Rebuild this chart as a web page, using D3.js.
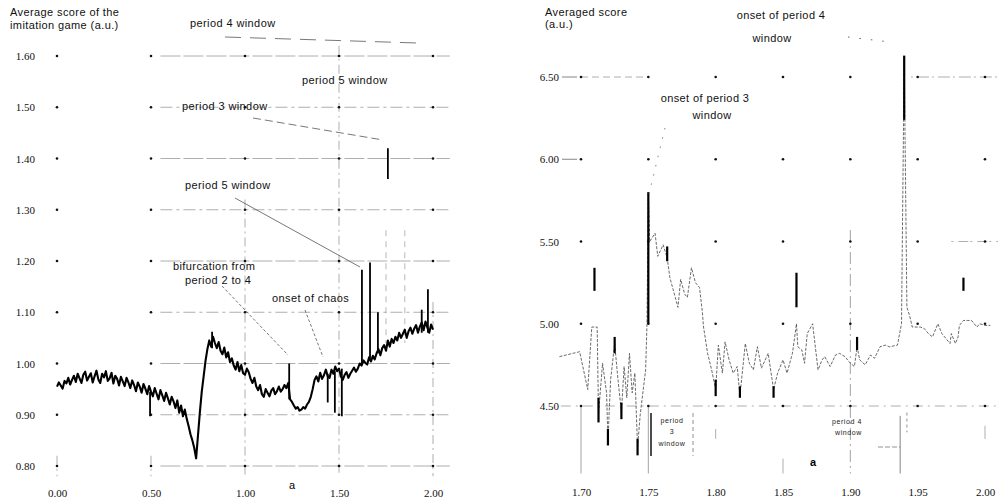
<!DOCTYPE html>
<html>
<head>
<meta charset="utf-8">
<script src="https://cdn.jsdelivr.net/npm/d3@7"></script>
<style>
  body { margin: 0; background: #fff; }
  svg { display: block; }
  .note { font-family: "Liberation Sans", Arial, sans-serif; font-size: 11px; letter-spacing: 0.4px; fill: #111; }
  .small { font-family: "Liberation Sans", Arial, sans-serif; font-size: 7px; letter-spacing: 0.6px; fill: #222; }
</style>
</head>
<body>
<div id="chart"></div>
<script>
// ---- left panel: average score vs a (sampled every 0.01 from 0 to 2) ----
const leftStart = 0, leftStep = 0.01;
const leftScore = [
  0.955, 0.963, 0.957, 0.951, 0.966, 0.961, 0.972, 0.959, 0.968, 0.976,
  0.964, 0.980, 0.971, 0.962, 0.978, 0.984, 0.967, 0.974, 0.981, 0.963,
  0.975, 0.986, 0.969, 0.962, 0.980, 0.973, 0.985, 0.966, 0.971, 0.982,
  0.961, 0.976, 0.970, 0.957, 0.974, 0.965, 0.956, 0.972, 0.963, 0.952,
  0.967, 0.958, 0.946, 0.963, 0.955, 0.943, 0.960, 0.951, 0.940, 0.956,
  0.945, 0.936, 0.952, 0.941, 0.930, 0.948, 0.938, 0.927, 0.943, 0.932,
  0.920, 0.935, 0.926, 0.913, 0.928, 0.904, 0.918, 0.897, 0.910, 0.892,
  0.878, 0.862, 0.850, 0.835, 0.815, 0.860, 0.905, 0.945, 0.975, 1.005,
  1.028, 1.045, 1.033, 1.052, 1.040, 1.030, 1.042, 1.025, 1.018, 1.031,
  1.012, 1.022, 1.003, 1.010, 0.996, 0.988, 1.003, 0.985, 0.997, 0.981,
  0.978, 0.990, 0.983, 0.970, 0.962, 0.972, 0.955, 0.948, 0.958, 0.940,
  0.935, 0.950, 0.943, 0.936, 0.947, 0.952, 0.940, 0.946, 0.955, 0.945,
  0.950, 0.958, 0.952, 0.962, 0.930, 0.925, 0.918, 0.912, 0.915, 0.908,
  0.910, 0.915, 0.912, 0.920, 0.925, 0.935, 0.950, 0.968, 0.975, 0.965,
  0.982, 0.970, 0.977, 0.988, 0.975, 0.972, 0.988, 0.980, 0.994, 0.985,
  0.990, 0.975, 0.968, 0.978, 0.983, 0.972, 0.980, 0.986, 0.992, 0.984,
  0.990, 1.000, 0.996, 1.006, 1.001, 0.998, 1.012, 1.004, 1.015, 1.008,
  1.020, 1.028, 1.016, 1.030, 1.036, 1.025, 1.045, 1.033, 1.048, 1.040,
  1.052, 1.045, 1.060, 1.050, 1.058, 1.066, 1.050, 1.063, 1.070, 1.058,
  1.068, 1.075, 1.060, 1.072, 1.080, 1.065, 1.082, 1.070, 1.060, 1.076, 1.066
];
// isolated spikes: [a, low, high]
const leftSpikes = [
  [0.495, 0.897, 0.945], [0.825, 1.030, 1.062], [1.235, 0.930, 1.000],
  [1.440, 0.924, 0.980], [1.478, 0.904, 0.985], [1.515, 0.897, 0.990],
  [1.622, 1.000, 1.183], [1.665, 1.010, 1.197], [1.707, 1.020, 1.100],
  [1.760, 1.360, 1.420], [1.940, 1.060, 1.105], [1.973, 1.060, 1.145]
];
const leftTicksX = [0, 0.5, 1.0, 1.5, 2.0];
const leftTicksY = [0.8, 0.9, 1.0, 1.1, 1.2, 1.3, 1.4, 1.5, 1.6];
const leftGridTop = [0.82, 0.82, 1.32, 1.62, 1.12];

// ---- right panel: averaged score vs a (1.70 .. 2.00) ----
const rightA = [
  1.684, 1.699, 1.705, 1.708, 1.712, 1.713, 1.716, 1.719, 1.720, 1.722,
  1.725, 1.727, 1.730, 1.732, 1.734, 1.736, 1.738, 1.740, 1.742, 1.744,
  1.748, 1.749, 1.750, 1.751, 1.755, 1.757, 1.761, 1.764, 1.766, 1.770,
  1.772, 1.774, 1.777, 1.779, 1.782, 1.785, 1.788, 1.790, 1.791, 1.794,
  1.797, 1.800, 1.802, 1.805, 1.807, 1.810, 1.813, 1.816, 1.818, 1.822,
  1.825, 1.828, 1.831, 1.834, 1.839, 1.843, 1.846, 1.850, 1.853, 1.857,
  1.860, 1.861, 1.864, 1.866, 1.868, 1.872, 1.876, 1.879, 1.881, 1.885,
  1.889, 1.892, 1.896, 1.900, 1.903, 1.905, 1.907, 1.911, 1.915, 1.918,
  1.922, 1.926, 1.929, 1.935, 1.938, 1.940, 1.942, 1.944, 1.946, 1.952,
  1.955, 1.958, 1.961, 1.965, 1.968, 1.970, 1.974, 1.975, 1.978, 1.980,
  1.981, 1.984, 1.987, 1.990, 1.994, 1.996, 2.000, 2.004
];
const rightScore = [
  4.80, 4.83, 4.60, 4.98, 4.98, 4.45, 4.76, 4.58, 4.29, 4.66,
  4.88, 4.70, 4.46, 4.74, 4.55, 4.82, 4.58, 4.70, 4.25, 4.45,
  4.72, 5.00, 5.80, 5.50, 5.55, 5.41, 5.48, 5.40, 5.28, 5.16,
  5.10, 5.27, 5.18, 5.16, 5.34, 5.25, 5.22, 5.08, 4.98, 4.82,
  4.72, 4.60, 4.87, 4.70, 4.89, 4.78, 4.70, 4.74, 4.56, 4.88,
  4.76, 4.72, 4.86, 4.73, 4.82, 4.60, 4.70, 4.78, 4.70, 4.82,
  5.00, 4.86, 4.84, 4.76, 4.94, 5.00, 4.72, 4.78, 4.80, 4.74,
  4.81, 4.82, 4.80, 4.76, 4.74, 4.86, 4.78, 4.75, 4.81, 4.79,
  4.86, 4.87, 4.86, 4.87, 5.00, 6.62, 5.10, 5.05, 4.98, 4.98,
  4.97, 4.94, 4.92, 5.00, 4.94, 4.92, 4.88, 4.94, 4.88, 4.92,
  4.99, 5.02, 5.02, 5.02, 4.98, 5.00, 4.99, 4.99
];
const rightSpikes = [
  [1.710, 5.20, 5.34], [1.713, 4.40, 4.55], [1.720, 4.26, 4.36],
  [1.725, 4.82, 4.92], [1.730, 4.42, 4.52], [1.742, 4.20, 4.30],
  [1.750, 5.00, 5.80], [1.764, 5.38, 5.47], [1.800, 4.56, 4.66],
  [1.818, 4.55, 4.62], [1.843, 4.55, 4.62], [1.860, 5.10, 5.31],
  [1.905, 4.84, 4.92], [1.940, 6.24, 6.63], [1.984, 5.20, 5.28]
];
const rightTicksX = [1.70, 1.75, 1.80, 1.85, 1.90, 1.95, 2.00];
const rightTicksY = [4.5, 5.0, 5.5, 6.0, 6.5];

const W = 998, H = 498;
const svg = d3.select("#chart").append("svg").attr("width", W).attr("height", H);

const gridColor = "#9a9a9a";

// ================= LEFT PANEL =================
const xL = d3.scaleLinear().domain([0, 2]).range([57, 433]);
const yL = d3.scaleLinear().domain([0.8, 1.6]).range([466, 56]);
const left = svg.append("g");

// horizontal grid
left.selectAll(".hgrid").data(leftTicksY).enter().append("line")
  .attr("x1", xL(0.55)).attr("x2", xL(2.09))
  .attr("y1", (d) => yL(d)).attr("y2", (d) => yL(d))
  .attr("stroke", gridColor).attr("stroke-width", 0.8)
  .attr("stroke-dasharray", (d, i) => (i % 2 ? "12,4,3,4" : "20,3"));

// vertical grid
left.selectAll(".vgrid").data(leftTicksX).enter().append("line")
  .attr("x1", (d) => xL(d)).attr("x2", (d) => xL(d))
  .attr("y1", (d, i) => yL(leftGridTop[i])).attr("y2", yL(0.78))
  .attr("stroke", gridColor).attr("stroke-width", 0.8)
  .attr("stroke-dasharray", "9,4,2,4");
left.selectAll(".vgrid2").data([1.75, 1.85]).enter().append("line")
  .attr("x1", (d) => xL(d)).attr("x2", (d) => xL(d))
  .attr("y1", yL(1.26)).attr("y2", yL(1.04))
  .attr("stroke", gridColor).attr("stroke-width", 0.7)
  .attr("stroke-dasharray", "6,5");

// grid dots
left.selectAll(".dot").data(d3.cross(leftTicksX, leftTicksY)).enter().append("circle")
  .attr("cx", (d) => xL(d[0])).attr("cy", (d) => yL(d[1])).attr("r", 1.3).attr("fill", "#111");

// series
const leftLine = d3.line()
  .x((d, i) => xL(leftStart + i * leftStep))
  .y((d) => yL(d));
left.append("path").datum(leftScore)
  .attr("d", leftLine).attr("fill", "none")
  .attr("stroke", "#000").attr("stroke-width", 2.1).attr("stroke-linejoin", "round");
left.selectAll(".spike").data(leftSpikes).enter().append("line")
  .attr("x1", (d) => xL(d[0])).attr("x2", (d) => xL(d[0]))
  .attr("y1", (d) => yL(d[1])).attr("y2", (d) => yL(d[2]))
  .attr("stroke", "#000").attr("stroke-width", 1.8);

// axes
const axL = left.append("g").attr("transform", "translate(0,489)")
  .call(d3.axisBottom(xL).tickValues(leftTicksX).tickFormat(d3.format(".2f")).tickSize(0).tickPadding(0));
const ayL = left.append("g").attr("transform", "translate(35,0)")
  .call(d3.axisLeft(yL).tickValues(leftTicksY).tickFormat(d3.format(".2f")).tickSize(0).tickPadding(0));
[axL, ayL].forEach((g) => {
  g.select(".domain").remove();
  g.selectAll("text").attr("font-family", "Liberation Serif, serif").attr("font-size", 11).attr("fill", "#111");
});

left.append("text").attr("class", "note").attr("x", 10).attr("y", 16).text("Average score of the");
left.append("text").attr("class", "note").attr("x", 10).attr("y", 29).text("imitation game (a.u.)");
left.append("text").attr("x", xL(1.25)).attr("y", 489).attr("text-anchor", "middle")
  .attr("font-family", "Liberation Sans, sans-serif").attr("font-size", 11).text("a");

const leftNotes = [
  ["period 4 window", 190, 27], ["period 5 window", 302, 84], ["period 3 window", 182, 110],
  ["period 5 window", 185, 189], ["bifurcation from", 173, 270], ["period 2 to 4", 185, 284],
  ["onset of chaos", 272, 302]
];
left.selectAll(".lnote").data(leftNotes).enter().append("text").attr("class", "note")
  .attr("x", (d) => d[1]).attr("y", (d) => d[2]).text((d) => d[0]);

const leftLeaders = [
  [225, 37, 417, 43, "16,9"], [253, 118, 383, 140, "8,4"], [235, 198, 360, 267, "none"],
  [222, 286, 288, 355, "3,2"], [305, 310, 323, 357, "3,2"]
];
left.selectAll(".lead").data(leftLeaders).enter().append("line")
  .attr("x1", (d) => d[0]).attr("y1", (d) => d[1]).attr("x2", (d) => d[2]).attr("y2", (d) => d[3])
  .attr("stroke", "#555").attr("stroke-width", 0.8).attr("stroke-dasharray", (d) => d[4]);

// ================= RIGHT PANEL =================
const xR = d3.scaleLinear().domain([1.7, 2.0]).range([581, 985]);
const yR = d3.scaleLinear().domain([4.5, 6.5]).range([406, 77]);
const right = svg.append("g");

// grid lines
right.append("line").attr("x1", xR(1.685)).attr("x2", 998).attr("y1", yR(4.5)).attr("y2", yR(4.5))
  .attr("stroke", gridColor).attr("stroke-width", 0.8).attr("stroke-dasharray", "10,5,2,5");
right.append("line").attr("x1", xR(1.70)).attr("x2", xR(1.75)).attr("y1", yR(6.5)).attr("y2", yR(6.5))
  .attr("stroke", gridColor).attr("stroke-width", 0.8).attr("stroke-dasharray", "7,4");
right.append("line").attr("x1", xR(1.945)).attr("x2", 998).attr("y1", yR(6.5)).attr("y2", yR(6.5))
  .attr("stroke", gridColor).attr("stroke-width", 0.8).attr("stroke-dasharray", "2,4,12,3");
right.append("line").attr("x1", xR(1.975)).attr("x2", 998).attr("y1", yR(5.5)).attr("y2", yR(5.5))
  .attr("stroke", gridColor).attr("stroke-width", 0.8).attr("stroke-dasharray", "2,5,10,2");
right.selectAll(".stub").data([6.5, 6.0]).enter().append("line")
  .attr("x1", 562).attr("x2", 577).attr("y1", (d) => yR(d)).attr("y2", (d) => yR(d))
  .attr("stroke", "#666").attr("stroke-width", 0.8);

right.selectAll(".vfull").data([1.70, 1.75]).enter().append("line")
  .attr("x1", (d) => xR(d)).attr("x2", (d) => xR(d))
  .attr("y1", yR(4.5)).attr("y2", yR(4.09))
  .attr("stroke", gridColor).attr("stroke-width", 0.9);
right.append("line").attr("x1", xR(1.90)).attr("x2", xR(1.90))
  .attr("y1", yR(5.57)).attr("y2", yR(4.09))
  .attr("stroke", gridColor).attr("stroke-width", 0.9).attr("stroke-dasharray", "12,4,2,4");
right.selectAll(".vshort").data([1.80, 1.85, 2.00]).enter().append("line")
  .attr("x1", (d) => xR(d)).attr("x2", (d) => xR(d))
  .attr("y1", (d, i) => yR([4.36, 4.18, 4.38][i])).attr("y2", (d, i) => yR([4.30, 4.09, 4.30][i]))
  .attr("stroke", gridColor).attr("stroke-width", 0.8);

right.selectAll(".dot").data(d3.cross(rightTicksX, rightTicksY)).enter().append("circle")
  .attr("cx", (d) => xR(d[0])).attr("cy", (d) => yR(d[1])).attr("r", 1.3).attr("fill", "#111");

// series
const rightLine = d3.line().x((d, i) => xR(rightA[i])).y((d) => yR(d));
right.append("path").datum(rightScore)
  .attr("d", rightLine).attr("fill", "none")
  .attr("stroke", "#444").attr("stroke-width", 0.8).attr("stroke-dasharray", "3,1.5");
right.selectAll(".spike").data(rightSpikes).enter().append("line")
  .attr("x1", (d) => xR(d[0])).attr("x2", (d) => xR(d[0]))
  .attr("y1", (d) => yR(d[1])).attr("y2", (d) => yR(d[2]))
  .attr("stroke", "#000").attr("stroke-width", 2.2);

// axes
const axR = right.append("g").attr("transform", "translate(0,488)")
  .call(d3.axisBottom(xR).tickValues(rightTicksX).tickFormat(d3.format(".2f")).tickSize(0).tickPadding(0));
const ayR = right.append("g").attr("transform", "translate(559,0)")
  .call(d3.axisLeft(yR).tickValues(rightTicksY).tickFormat(d3.format(".2f")).tickSize(0).tickPadding(0));
[axR, ayR].forEach((g) => {
  g.select(".domain").remove();
  g.selectAll("text").attr("font-family", "Liberation Serif, serif").attr("font-size", 11).attr("fill", "#111");
});

right.append("text").attr("class", "note").attr("x", 545).attr("y", 16).text("Averaged score");
right.append("text").attr("class", "note").attr("x", 545).attr("y", 28).text("(a.u.)");
right.append("text").attr("x", 813).attr("y", 466).attr("text-anchor", "middle")
  .attr("font-family", "Liberation Sans, sans-serif").attr("font-size", 11).attr("font-weight", "bold").text("a");

const rightNotes = [
  ["onset of period 4", 781, 19], ["window", 772, 42],
  ["onset of period 3", 705, 102], ["window", 712, 119]
];
right.selectAll(".rnote").data(rightNotes).enter().append("text").attr("class", "note")
  .attr("x", (d) => d[1]).attr("y", (d) => d[2]).attr("text-anchor", "middle").text((d) => d[0]);

right.append("line").attr("x1", 848).attr("y1", 37).attr("x2", 890).attr("y2", 42)
  .attr("stroke", "#555").attr("stroke-width", 0.9).attr("stroke-dasharray", "1.5,10");
right.append("line").attr("x1", 665).attr("y1", 128).attr("x2", 648).attr("y2", 198)
  .attr("stroke", "#666").attr("stroke-width", 0.8).attr("stroke-dasharray", "1.5,8");

// period 3 window box
right.append("line").attr("x1", 651).attr("x2", 651).attr("y1", 413).attr("y2", 456)
  .attr("stroke", "#000").attr("stroke-width", 1.4);
right.append("line").attr("x1", 693).attr("x2", 693).attr("y1", 413).attr("y2", 456)
  .attr("stroke", "#777").attr("stroke-width", 0.8).attr("stroke-dasharray", "4,3");
[["period", 423], ["3", 434], ["window", 446]].forEach((t) => {
  right.append("text").attr("class", "small").attr("x", 672).attr("y", t[1])
    .attr("text-anchor", "middle").text(t[0]);
});

// period 4 window marker
[["period 4", 424], ["window", 435]].forEach((t) => {
  right.append("text").attr("class", "small").attr("x", 862).attr("y", t[1])
    .attr("text-anchor", "end").text(t[0]);
});
right.append("line").attr("x1", xR(1.937)).attr("x2", xR(1.937)).attr("y1", yR(4.44)).attr("y2", yR(4.09))
  .attr("stroke", "#777").attr("stroke-width", 0.9);
right.append("line").attr("x1", xR(1.942)).attr("x2", xR(1.942)).attr("y1", yR(4.46)).attr("y2", yR(4.34))
  .attr("stroke", "#777").attr("stroke-width", 0.8).attr("stroke-dasharray", "3,3");
right.append("line").attr("x1", 878).attr("x2", xR(1.937)).attr("y1", 447).attr("y2", 447)
  .attr("stroke", "#777").attr("stroke-width", 0.8).attr("stroke-dasharray", "5,2");
</script>
</body>
</html>
